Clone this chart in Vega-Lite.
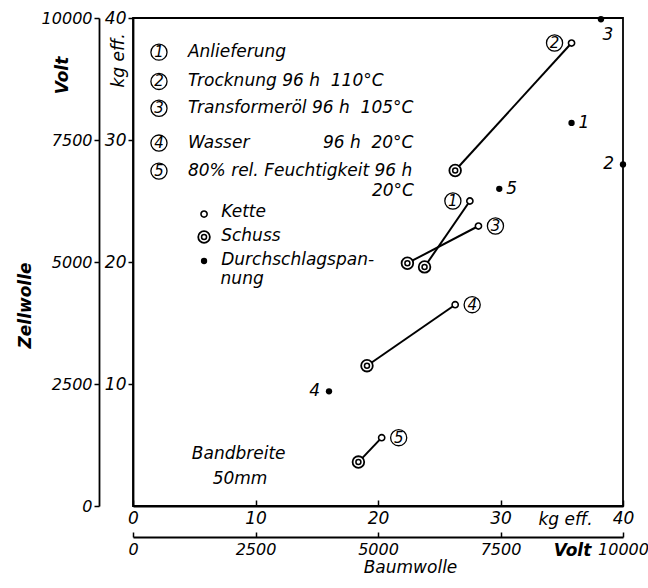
{
  "$schema": "https://vega.github.io/schema/vega-lite/v6.json",
  "width": 490,
  "height": 488,
  "autosize": "none",
  "padding": {"left": 133, "top": 18, "right": 25, "bottom": 82},
  "background": "white",
  "config": {
    "view": {"stroke": "black", "strokeWidth": 1.8},
    "font": "DejaVu Sans",
    "axis": {
      "labelFont": "DejaVu Sans", "labelFontStyle": "italic", "labelFontSize": 17, "labelColor": "black",
      "titleFont": "DejaVu Sans", "titleFontStyle": "italic", "titleFontSize": 17, "titleColor": "black", "titleFontWeight": "normal",
      "domainColor": "black", "domainWidth": 1.8, "tickColor": "black", "tickWidth": 1.5, "grid": false,
      "titleAlign": "center", "titleBaseline": "middle", "labelBound": false, "labelOverlap": false, "labelFlush": false
    },
    "text": {"font": "DejaVu Sans", "fontStyle": "italic", "fontSize": 17, "color": "black", "baseline": "middle", "align": "left"}
  },
  "datasets": {
    "strength": [
      {"versuch": "1", "faden": "Kette", "baumwolle": 27.5, "zellwolle": 25.0},
      {"versuch": "1", "faden": "Schuss", "baumwolle": 23.8, "zellwolle": 19.6},
      {"versuch": "2", "faden": "Kette", "baumwolle": 35.8, "zellwolle": 37.95},
      {"versuch": "2", "faden": "Schuss", "baumwolle": 26.3, "zellwolle": 27.5},
      {"versuch": "3", "faden": "Kette", "baumwolle": 28.2, "zellwolle": 22.95},
      {"versuch": "3", "faden": "Schuss", "baumwolle": 22.4, "zellwolle": 19.9},
      {"versuch": "4", "faden": "Kette", "baumwolle": 26.3, "zellwolle": 16.5},
      {"versuch": "4", "faden": "Schuss", "baumwolle": 19.1, "zellwolle": 11.5},
      {"versuch": "5", "faden": "Kette", "baumwolle": 20.3, "zellwolle": 5.6},
      {"versuch": "5", "faden": "Schuss", "baumwolle": 18.4, "zellwolle": 3.6}
    ],
    "breakdown": [
      {"versuch": "1", "baumwolle": 8950, "zellwolle": 7850},
      {"versuch": "2", "baumwolle": 10000, "zellwolle": 7000},
      {"versuch": "3", "baumwolle": 9550, "zellwolle": 9975},
      {"versuch": "4", "baumwolle": 4000, "zellwolle": 2350},
      {"versuch": "5", "baumwolle": 7475, "zellwolle": 6500}
    ],
    "conditions": [
      {"versuch": "1", "label": "Anlieferung", "baumwolle": 2.12, "zellwolle": 37.2},
      {"versuch": "2", "label": "Trocknung 96 h\u00a0\u00a0110°C", "baumwolle": 2.12, "zellwolle": 34.8},
      {"versuch": "3", "label": "Transformeröl 96 h\u00a0\u00a0105°C", "baumwolle": 2.12, "zellwolle": 32.6},
      {"versuch": "4", "label": "Wasser", "baumwolle": 2.12, "zellwolle": 29.75},
      {"versuch": "5", "label": "80% rel. Feuchtigkeit 96 h", "baumwolle": 2.12, "zellwolle": 27.45}
    ],
    "notes": [
      {"text": "96 h\u00a0\u00a020°C", "baumwolle": 15.5, "zellwolle": 29.75},
      {"text": "20°C", "baumwolle": 19.5, "zellwolle": 25.85},
      {"text": "Kette", "baumwolle": 7.2, "zellwolle": 24.1},
      {"text": "Schuss", "baumwolle": 7.2, "zellwolle": 22.1},
      {"text": "Durchschlagspan-", "baumwolle": 7.2, "zellwolle": 20.15},
      {"text": "nung", "baumwolle": 7.15, "zellwolle": 18.6},
      {"text": "Bandbreite", "baumwolle": 4.8, "zellwolle": 4.26},
      {"text": "50mm", "baumwolle": 6.5, "zellwolle": 2.2}
    ],
    "legend_marks": [
      {"faden": "Kette", "baumwolle": 5.8, "zellwolle": 23.93},
      {"faden": "Schuss", "baumwolle": 5.8, "zellwolle": 22.05},
      {"faden": "Durchschlag", "baumwolle": 5.8, "zellwolle": 20.08}
    ]
  },
  "layer": [
    {
      "encoding": {
        "x": {"field": "baumwolle", "type": "quantitative", "scale": {"domain": [0, 40], "nice": false},
          "axis": {"orient": "bottom", "values": [0, 10, 20, 30, 40], "tickSize": -6, "labelPadding": 10,
            "title": "kg eff.", "titleX": 432, "titleY": 13}},
        "y": {"field": "zellwolle", "type": "quantitative", "scale": {"domain": [0, 40], "nice": false},
          "axis": {"orient": "left", "values": [10, 20, 30, 40], "tickSize": 5, "labelPadding": 2,
            "title": "kg eff.", "titleX": -15, "titleY": 42}}
      },
      "layer": [
        {
          "data": {"name": "strength"},
          "mark": {"type": "line", "color": "black", "strokeWidth": 2},
          "encoding": {"detail": {"field": "versuch"}}
        },
        {
          "data": {"name": "strength"},
          "transform": [{"filter": "datum.faden === 'Schuss'"}],
          "mark": {"type": "point", "shape": "circle", "size": 135, "filled": true, "fill": "white", "stroke": "black", "strokeWidth": 1.8, "opacity": 1}
        },
        {
          "data": {"name": "strength"},
          "transform": [{"filter": "datum.faden === 'Schuss'"}],
          "mark": {"type": "point", "shape": "circle", "size": 25, "filled": false, "stroke": "black", "strokeWidth": 1.5, "opacity": 1}
        },
        {
          "data": {"name": "strength"},
          "transform": [{"filter": "datum.faden === 'Kette'"}],
          "mark": {"type": "point", "shape": "circle", "size": 38, "filled": true, "fill": "white", "stroke": "black", "strokeWidth": 1.6, "opacity": 1}
        },
        {
          "data": {"name": "strength"},
          "transform": [{"filter": "datum.faden === 'Kette' && (datum.versuch === '1' || datum.versuch === '2')"}],
          "mark": {"type": "point", "shape": "circle", "size": 260, "filled": false, "stroke": "black", "strokeWidth": 1.3, "opacity": 1, "xOffset": -17}
        },
        {
          "data": {"name": "strength"},
          "transform": [{"filter": "datum.faden === 'Kette' && (datum.versuch === '1' || datum.versuch === '2')"}],
          "mark": {"type": "text", "dx": -17, "align": "center", "fontSize": 15},
          "encoding": {"text": {"field": "versuch"}}
        },
        {
          "data": {"name": "strength"},
          "transform": [{"filter": "datum.faden === 'Kette' && datum.versuch !== '1' && datum.versuch !== '2'"}],
          "mark": {"type": "point", "shape": "circle", "size": 260, "filled": false, "stroke": "black", "strokeWidth": 1.3, "opacity": 1, "xOffset": 17}
        },
        {
          "data": {"name": "strength"},
          "transform": [{"filter": "datum.faden === 'Kette' && datum.versuch !== '1' && datum.versuch !== '2'"}],
          "mark": {"type": "text", "dx": 17, "align": "center", "fontSize": 15},
          "encoding": {"text": {"field": "versuch"}}
        },
        {
          "data": {"name": "conditions"},
          "mark": {"type": "point", "shape": "circle", "size": 260, "filled": false, "stroke": "black", "strokeWidth": 1.3, "opacity": 1}
        },
        {
          "data": {"name": "conditions"},
          "mark": {"type": "text", "align": "center", "fontSize": 15},
          "encoding": {"text": {"field": "versuch"}}
        },
        {
          "data": {"name": "conditions"},
          "mark": {"type": "text", "align": "left", "dx": 29},
          "encoding": {"text": {"field": "label"}}
        },
        {
          "data": {"name": "notes"},
          "mark": {"type": "text", "align": "left"},
          "encoding": {"text": {"field": "text"}}
        },
        {
          "data": {"name": "legend_marks"},
          "transform": [{"filter": "datum.faden === 'Kette'"}],
          "mark": {"type": "point", "shape": "circle", "size": 38, "filled": true, "fill": "white", "stroke": "black", "strokeWidth": 1.6, "opacity": 1}
        },
        {
          "data": {"name": "legend_marks"},
          "transform": [{"filter": "datum.faden === 'Schuss'"}],
          "mark": {"type": "point", "shape": "circle", "size": 135, "filled": true, "fill": "white", "stroke": "black", "strokeWidth": 1.8, "opacity": 1}
        },
        {
          "data": {"name": "legend_marks"},
          "transform": [{"filter": "datum.faden === 'Schuss'"}],
          "mark": {"type": "point", "shape": "circle", "size": 25, "filled": false, "stroke": "black", "strokeWidth": 1.5, "opacity": 1}
        },
        {
          "data": {"name": "legend_marks"},
          "transform": [{"filter": "datum.faden === 'Durchschlag'"}],
          "mark": {"type": "point", "shape": "circle", "size": 40, "filled": true, "fill": "black", "strokeWidth": 0, "opacity": 1}
        }
      ]
    },
    {
      "data": {"name": "breakdown"},
      "mark": {"type": "point", "shape": "circle", "size": 40, "filled": true, "fill": "black", "strokeWidth": 0, "opacity": 1},
      "encoding": {
        "x": {"field": "baumwolle", "type": "quantitative", "scale": {"domain": [0, 10000], "nice": false},
          "axis": {"orient": "bottom", "offset": 31, "values": [0, 2500, 5000, 7500, 10000], "format": "d", "labelFontSize": 16, "tickSize": -5, "labelPadding": 9,
            "title": "Volt", "titleFontWeight": "bold", "titleX": 439, "titleY": 13}},
        "y": {"field": "zellwolle", "type": "quantitative", "scale": {"domain": [0, 10000], "nice": false},
          "axis": {"orient": "left", "offset": 34, "values": [0, 2500, 5000, 7500, 10000], "format": "d", "labelFontSize": 16, "tickSize": 5, "labelPadding": 2,
            "title": "Volt", "titleFontWeight": "bold", "titleX": -37, "titleY": 57}}
      }
    },
    {
      "data": {"name": "breakdown"},
      "encoding": {
        "x": {"field": "baumwolle", "type": "quantitative", "scale": {"domain": [0, 10000], "nice": false},
          "axis": {"orient": "bottom", "domain": false, "ticks": false, "labels": false,
            "title": "Baumwolle", "titleX": 277, "titleY": 61}},
        "y": {"field": "zellwolle", "type": "quantitative", "scale": {"domain": [0, 10000], "nice": false},
          "axis": {"orient": "left", "domain": false, "ticks": false, "labels": false,
            "title": "Zellwolle", "titleFontWeight": "bold", "titleX": -108, "titleY": 287}},
        "text": {"field": "versuch"}
      },
      "layer": [
        {
          "transform": [{"filter": "datum.versuch === '1' || datum.versuch === '5'"}],
          "mark": {"type": "text", "align": "left", "dx": 7}
        },
        {
          "transform": [{"filter": "datum.versuch === '2' || datum.versuch === '4'"}],
          "mark": {"type": "text", "align": "right", "dx": -9}
        },
        {
          "transform": [{"filter": "datum.versuch === '3'"}],
          "mark": {"type": "text", "align": "center", "dx": 7, "dy": 16}
        }
      ]
    }
  ],
  "resolve": {"scale": {"x": "independent", "y": "independent"}}
}
